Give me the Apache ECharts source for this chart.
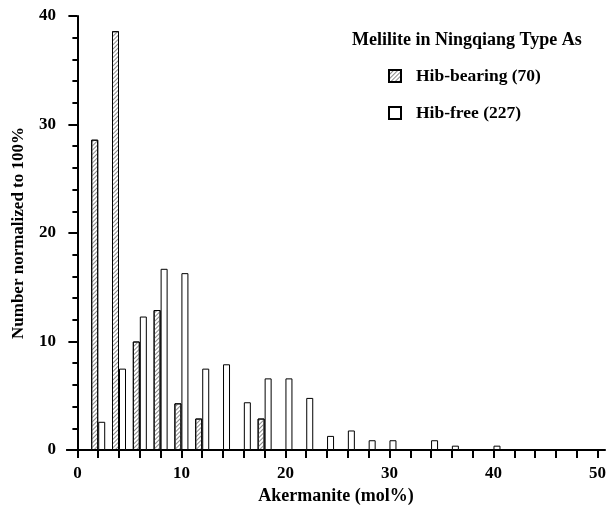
<!DOCTYPE html>
<html>
<head>
<meta charset="utf-8">
<script src="https://cdn.jsdelivr.net/npm/echarts@6/dist/echarts.min.js"></script>
<style>
  html, body { margin: 0; padding: 0; background: #fff; }
  #chart { width: 609px; height: 511px; }
</style>
</head>
<body>
<div id="chart"></div>
<script>
// akermanite bins (mol%)
var hibBearingX = [2, 4, 6, 8, 10, 12, 18];
var hibBearingY = [28.6, 38.6, 10.0, 12.9, 4.3, 2.9, 2.9];
var hibFreeX = [2, 4, 6, 8, 10, 12, 14, 16, 18, 20, 22, 24, 26, 28, 30, 34, 36, 40];
var hibFreeY = [2.6, 7.5, 12.3, 16.7, 16.3, 7.5, 7.9, 4.4, 6.6, 6.6, 4.8, 1.3, 1.8, 0.9, 0.9, 0.9, 0.4, 0.4];
var xTicks = [0, 2, 4, 6, 8, 10, 12, 14, 16, 18, 20, 22, 24, 26, 28, 30, 32, 34, 36, 38, 40, 42, 44, 46, 48, 50];
var xLabels = [0, 10, 20, 30, 40, 50];

var font = 'Liberation Serif';

function pairs(xs, ys) {
  var out = [];
  for (var i = 0; i < xs.length; i++) out.push([xs[i], ys[i]]);
  return out;
}

var chart = echarts.init(document.getElementById('chart'));
var option = {
  animation: false,
  title: {
    text: 'Melilite in Ningqiang Type As',
    left: 347,
    top: 26,
    textStyle: { fontFamily: font, fontWeight: 'bold', fontSize: 18, color: '#000' }
  },
  legend: {
    orient: 'vertical',
    left: 383,
    top: 62,
    icon: 'rect',
    itemWidth: 12,
    itemHeight: 12,
    itemGap: 19,
    textStyle: { fontFamily: font, fontWeight: 'bold', fontSize: 17.5, color: '#000', padding: [0, 0, 0, 10] },
    data: ['Hib-bearing (70)', 'Hib-free (227)']
  },
  grid: { left: 67, right: 0, top: 16, bottom: 61 },
  xAxis: [{
    type: 'value',
    min: -1,
    max: 50.7,
    name: 'Akermanite (mol%)',
    nameLocation: 'middle',
    nameGap: 33,
    nameTextStyle: { fontFamily: font, fontWeight: 'bold', fontSize: 18, color: '#000' },
    axisLine: { onZero: false, lineStyle: { color: '#000', width: 2 } },
    axisTick: { show: true, length: 8, customValues: xTicks, lineStyle: { color: '#000', width: 2 } },
    axisLabel: {
      customValues: xLabels,
      fontFamily: font, fontWeight: 'bold', fontSize: 17, color: '#000', margin: 15
    },
    splitLine: { show: false }
  }, {
    type: 'value',
    position: 'top',
    min: -1,
    max: 50.7,
    axisLine: { show: true, lineStyle: { color: '#000', width: 2 } },
    axisTick: { show: false },
    axisLabel: { show: false },
    splitLine: { show: false }
  }],
  yAxis: {
    type: 'value',
    min: 0,
    max: 40,
    interval: 10,
    name: 'Number normalized to 100%',
    nameLocation: 'middle',
    nameGap: 40,
    nameTextStyle: { fontFamily: font, fontWeight: 'bold', fontSize: 17, color: '#000' },
    axisLine: { show: true, lineStyle: { color: '#000', width: 2 } },
    axisTick: { show: true, length: 9, lineStyle: { color: '#000', width: 2 } },
    minorTick: { show: true, splitNumber: 5, length: 5, lineStyle: { color: '#000', width: 2 } },
    axisLabel: { fontFamily: font, fontWeight: 'bold', fontSize: 17, color: '#000', margin: 11 },
    splitLine: { show: false }
  },
  series: [{
    name: 'Hib-bearing (70)',
    type: 'bar',
    barWidth: 7,
    barGap: '0%',
    data: pairs(hibBearingX, hibBearingY),
    itemStyle: {
      color: '#fff',
      borderColor: '#000',
      borderWidth: 1,
      decal: {
        symbol: 'rect',
        color: '#8a8a8a',
        dashArrayX: [1, 0],
        dashArrayY: [1, 2],
        rotation: -Math.PI / 4
      }
    }
  }, {
    name: 'Hib-free (227)',
    type: 'bar',
    barWidth: 7,
    barGap: '0%',
    data: pairs(hibFreeX, hibFreeY),
    itemStyle: { color: '#fff', borderColor: '#000', borderWidth: 1 }
  }]
};
chart.setOption(option);
</script>
</body>
</html>
